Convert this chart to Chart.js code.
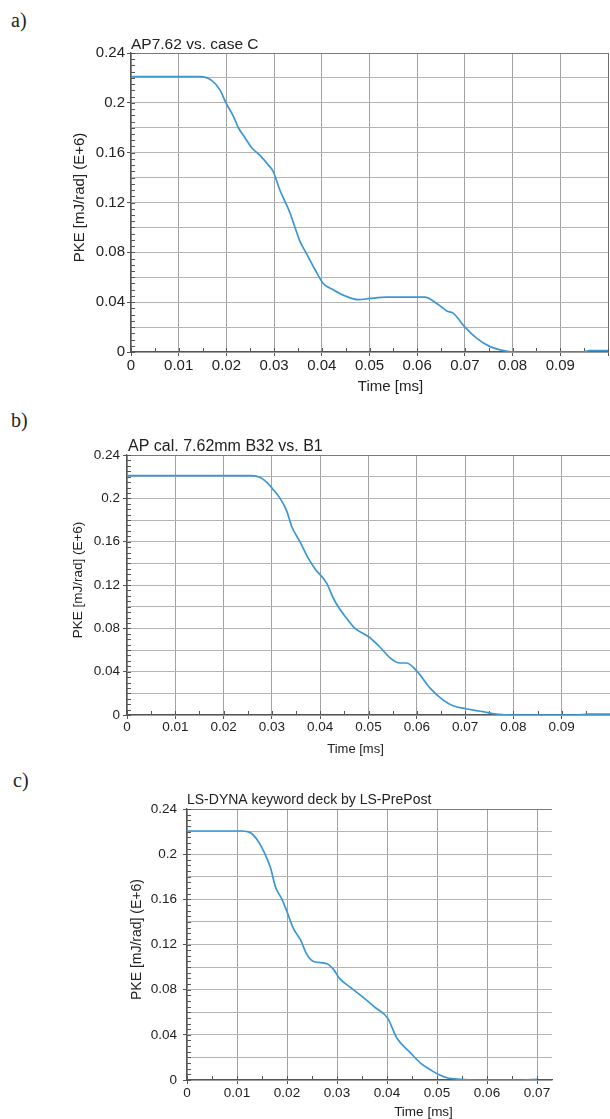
<!DOCTYPE html>
<html><head><meta charset="utf-8">
<script src="https://cdn.jsdelivr.net/npm/chart.js@4.4.0/dist/chart.umd.min.js"></script>
<style>
html,body{margin:0;padding:0;background:#fff;}
body{width:610px;height:1119px;position:relative;overflow:hidden;}
.panel{position:absolute;left:0;width:610px;}
.lbl{position:absolute;font-family:"Liberation Serif","Times New Roman",serif;font-size:20px;color:#222;line-height:22px;}
</style></head><body>
<div class="lbl" style="left:11px;top:9px">a)</div>
<div class="lbl" style="left:11px;top:409px">b)</div>
<div class="lbl" style="left:13px;top:769px">c)</div>
<div class="panel" style="top:20px;height:390px"><canvas id="cA"></canvas></div>
<div class="panel" style="top:400px;height:360px"><canvas id="cB"></canvas></div>
<div class="panel" style="top:760px;height:359px"><canvas id="cC"></canvas></div>
<script>
// ---- data ----
const titleA = 'AP7.62 vs. case C';
const titleB = 'AP cal. 7.62mm B32 vs. B1';
const titleC = 'LS-DYNA keyword deck by LS-PrePost';
const xAxisTitle = 'Time [ms]';
const yAxisTitle = 'PKE [mJ/rad] (E+6)';

const timeA = [0,0.005,0.010,0.0145,0.0169,0.0187,0.0199,0.0215,0.0225,0.0239,0.0253,0.0270,0.0288,0.0298,0.0312,0.0333,0.0342,0.0354,0.0368,0.0386,0.0403,0.0424,0.0449,0.0477,0.0501,0.0536,0.0564,0.0616,0.0641,0.0662,0.0676,0.0700,0.0725,0.0753,0.0781,0.0802,0.0945,0.0962,0.1];
const pkeA  = [0.221,0.221,0.221,0.221,0.218,0.210,0.200,0.189,0.180,0.172,0.164,0.158,0.150,0.145,0.130,0.112,0.102,0.089,0.079,0.066,0.055,0.050,0.045,0.042,0.043,0.044,0.044,0.044,0.039,0.033,0.031,0.020,0.011,0.0043,0.0011,0,0,0.0011,0.0011];

const timeB = [0,0.01,0.02,0.0258,0.0275,0.0289,0.0301,0.0317,0.0331,0.0341,0.0358,0.0375,0.0389,0.0413,0.0427,0.0440,0.0455,0.0472,0.0501,0.0523,0.0544,0.0565,0.0579,0.0601,0.0627,0.0654,0.0675,0.0701,0.0737,0.0764,0.0801,0.0930,0.0957,0.1];
const pkeB  = [0.221,0.221,0.221,0.221,0.2195,0.215,0.209,0.200,0.188,0.174,0.160,0.145,0.135,0.122,0.108,0.098,0.089,0.080,0.072,0.063,0.053,0.048,0.048,0.040,0.025,0.014,0.0086,0.0058,0.0031,0.0009,0,0,0.0009,0.0009];

const timeC = [0,0.005,0.011,0.0127,0.0140,0.0153,0.0167,0.0177,0.0190,0.0200,0.0213,0.0227,0.0240,0.0253,0.0280,0.0293,0.0305,0.0327,0.0353,0.0377,0.0401,0.0420,0.0447,0.0467,0.0487,0.0501,0.0520,0.0547,0.0580,0.0670,0.0700];
const pkeC  = [0.2205,0.2205,0.2205,0.219,0.213,0.203,0.188,0.171,0.160,0.149,0.134,0.124,0.111,0.105,0.103,0.098,0.090,0.082,0.073,0.064,0.055,0.037,0.024,0.015,0.009,0.0053,0.002,0.0006,0,0,0.0005];

const yMin = 0, yMax = 0.24, yStep = 0.02;     // labels every 2nd tick: 0, 0.04 ... 0.24
const xStep = 0.01;
const xMaxAB = 0.1, xMaxC = 0.073;

// ---- rendering ----
Chart.defaults.font.family = '"Liberation Sans", Arial, Helvetica, sans-serif';
Chart.defaults.color = '#222';

const fmt = v => String(Number(v.toFixed(4)));

const panelText = {
  id: 'panelText',
  afterDraw(chart, args, o) {
    const {ctx, chartArea: ca} = chart;
    ctx.save();
    ctx.fillStyle = '#222';
    ctx.font = o.titleFont;
    ctx.textAlign = 'left'; ctx.textBaseline = 'alphabetic';
    ctx.fillText(o.title, ca.left + o.titleDx, ca.top - o.titleGap);
    ctx.textAlign = 'center'; ctx.textBaseline = 'middle';
    ctx.font = o.xFont;
    ctx.fillText(o.xTitle, (ca.left + ca.right) / 2 + o.xDx, ca.bottom + o.xDy);
    ctx.font = o.yFont;
    ctx.translate(ca.left - o.yDx, (ca.top + ca.bottom) / 2 + o.yDy);
    ctx.rotate(-Math.PI / 2);
    ctx.fillText(o.yTitle, 0, 0);
    ctx.restore();
  }
};

const minorTicks = {
  id: 'minorTicks',
  beforeDatasetsDraw(chart, args, o) {
    const {ctx, chartArea: ca, scales: {x, y}} = chart;
    ctx.save();
    ctx.strokeStyle = o.color; ctx.lineWidth = 1;
    ctx.beginPath();
    for (let k = 0; ; k++) {
      const v = k * o.yStep; if (v > y.max + 1e-9) break;
      const py = Math.round(y.getPixelForValue(v)) + 0.5;
      ctx.moveTo(ca.left, py); ctx.lineTo(ca.left + o.len, py);
    }
    for (let k = 0; ; k++) {
      const v = k * o.xStep; if (v > x.max + 1e-9) break;
      const px = Math.round(x.getPixelForValue(v)) + 0.5;
      ctx.moveTo(px, ca.bottom); ctx.lineTo(px, ca.bottom - o.len);
    }
    ctx.stroke();
    ctx.restore();
  }
};

function makeChart(id, time, pke, c) {
  const pts = time.map((t, i) => ({x: t, y: pke[i]}));
  return new Chart(document.getElementById(id), {
    type: 'line',
    data: { datasets: [{
      data: pts, borderColor: '#3b97d3', borderWidth: 1.7, pointRadius: 0,
      cubicInterpolationMode: 'monotone', fill: false
    }]},
    options: {
      responsive: true, maintainAspectRatio: false, animation: false,
      layout: { padding: { top: c.padTop, right: c.padRight, left: 0, bottom: 0 } },
      plugins: {
        legend: { display: false }, tooltip: { enabled: false }, title: { display: false },
        panelText: {
          title: c.title, titleFont: c.titleFont, titleDx: c.titleDx, titleGap: c.titleGap,
          xTitle: xAxisTitle, xFont: c.xFont, xDx: c.xDx, xDy: c.xDy,
          yTitle: yAxisTitle, yFont: c.yFont, yDx: c.yDx, yDy: c.yDy
        },
        minorTicks: { color: '#555', len: 4, yStep: 0.005, xStep: 0.005 }
      },
      scales: {
        x: {
          type: 'linear', min: 0, max: c.xMax,
          afterFit: s => { s.height = c.xHeight; s.paddingLeft = 0; s.paddingRight = 0; },
          ticks: { stepSize: xStep, autoSkip: false, maxRotation: 0, includeBounds: c.includeBounds,
                   padding: c.xPad, font: { size: c.tickSize }, color: '#222',
                   callback: v => (v > 0.0955 ? '' : fmt(v)) },
          grid: { color: ctx => (ctx.tick && Math.abs(ctx.tick.value - c.xMax) < 1e-9 ? '#6e6e6e' : '#a2a2a2'),
                  lineWidth: 1, tickLength: 4, tickColor: '#555' },
          border: { display: true, color: '#555', width: 1.3 }
        },
        y: {
          type: 'linear', min: yMin, max: yMax,
          afterFit: s => { s.width = c.yWidth; s.paddingTop = 0; s.paddingBottom = 0; },
          ticks: { stepSize: yStep, autoSkip: false, padding: c.yPad, font: { size: c.tickSize }, color: '#222',
                   callback: (v, i) => (i % 2 === 0 ? fmt(v) : '') },
          grid: { color: ctx => (ctx.tick && Math.abs(ctx.tick.value - yMax) < 1e-9 ? '#7a7a7a' : '#b4b4b4'),
                  lineWidth: 1, tickLength: 4,
                  tickColor: ctx => (ctx.index % 2 === 0 ? '#555' : 'rgba(0,0,0,0)') },
          border: { display: true, color: '#555', width: 1.3 }
        }
      }
    },
    plugins: [minorTicks, panelText]
  });
}

// panel a: plot area x 131..608, y 53..352 (page)
makeChart('cA', timeA, pkeA, {
  padTop: 33, padRight: 2, yWidth: 131, xHeight: 58, xMax: xMaxAB, includeBounds: true,
  tickSize: 15, xPad: 1, yPad: 2,
  title: titleA, titleFont: '15.5px "Liberation Sans", Arial, sans-serif', titleDx: 0, titleGap: 4,
  xFont: '15px "Liberation Sans", Arial, sans-serif', xDx: 21, xDy: 35,
  yFont: '15px "Liberation Sans", Arial, sans-serif', yDx: 51, yDy: -5
});
// panel b: plot area x 127..610, y 455..715
makeChart('cB', timeB, pkeB, {
  padTop: 55, padRight: 0, yWidth: 127, xHeight: 45, xMax: xMaxAB, includeBounds: true,
  tickSize: 13.5, xPad: 0, yPad: 3,
  title: titleB, titleFont: '16px "Liberation Sans", Arial, sans-serif', titleDx: 1, titleGap: 4,
  xFont: '13px "Liberation Sans", Arial, sans-serif', xDx: -13, xDy: 34,
  yFont: '13.5px "Liberation Sans", Arial, sans-serif', yDx: 49, yDy: -5
});
// panel c: plot area x 187..552, y 809..1080
makeChart('cC', timeC, pkeC, {
  padTop: 49, padRight: 58, yWidth: 187, xHeight: 39, xMax: xMaxC, includeBounds: false,
  tickSize: 13.5, xPad: 1, yPad: 6,
  title: titleC, titleFont: '14px "Liberation Sans", Arial, sans-serif', titleDx: 0, titleGap: 5,
  xFont: '13.5px "Liberation Sans", Arial, sans-serif', xDx: 54, xDy: 32,
  yFont: '14px "Liberation Sans", Arial, sans-serif', yDx: 50, yDy: -5
});
</script>
</body></html>
